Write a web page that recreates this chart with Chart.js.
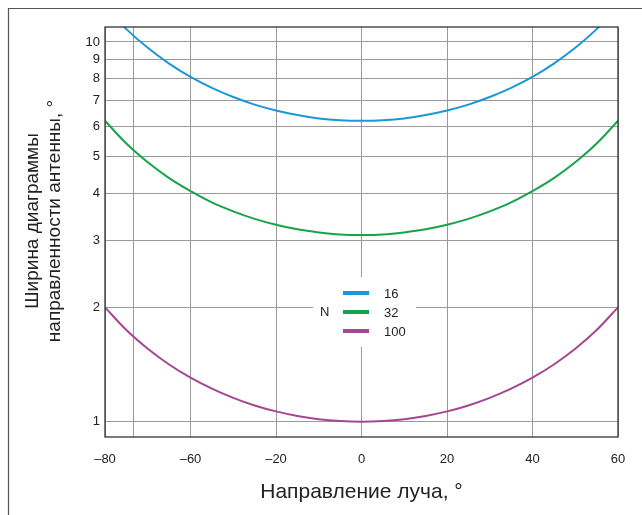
<!DOCTYPE html>
<html><head><meta charset="utf-8">
<script src="https://cdn.jsdelivr.net/npm/chart.js@4"></script>
<style>html,body{margin:0;padding:0;background:#fff}#wrap{width:642px;height:515px;position:relative}</style>
</head><body><div id="wrap"><canvas id="c" width="642" height="515"></canvas></div>
<script>
// Beam direction (degrees, plotted positions)
const angles = [-60,-55,-50,-45,-40,-35,-30,-25,-20,-15,-10,-5,0,5,10,15,20,25,30,35,40,45,50,55,60];
// Beam width for N = 16
const n16 = [12.4,10.81,9.65,8.77,8.09,7.57,7.16,6.84,6.60,6.42,6.29,6.22,6.20,6.22,6.29,6.42,6.60,6.84,7.16,7.57,8.09,8.77,9.65,10.81,12.4];
// Beam width for N = 32
const n32 = [6.20,5.40,4.82,4.38,4.05,3.78,3.58,3.42,3.30,3.21,3.15,3.11,3.10,3.11,3.15,3.21,3.30,3.42,3.58,3.78,4.05,4.38,4.82,5.40,6.20];
// Beam width for N = 100
const n100 = [2.00,1.743,1.556,1.414,1.305,1.221,1.155,1.103,1.064,1.035,1.015,1.004,1.00,1.004,1.015,1.035,1.064,1.103,1.155,1.221,1.305,1.414,1.556,1.743,2.00];
const seriesNames = ['16','32','100'];
const xTickPos = [-60,-53.4,-40,-20,0,20,40,60];
const xTickLabels = ['–80','','–60','–20','0','20','40','60'];
const yTicks = [1,2,3,4,5,6,7,8,9,10];
const yTitle = ['Ширина диаграммы','направленности антенны, °'];
const xTitle = 'Направление луча, °';

const colors = ['#1a98d5','#17a34a','#a64690'];
const FONT = '"Liberation Sans", Arial, sans-serif';
function mk(arr){return angles.map((a,i)=>({x:a,y:arr[i]}));}

const frame = {
  id:'frame',
  beforeDraw(ch){
    const c=ch.ctx; c.save();
    c.fillStyle='#fff'; c.fillRect(0,0,ch.width,ch.height);
    c.strokeStyle='#555'; c.lineWidth=1.2;
    c.beginPath(); c.moveTo(8.5,515); c.lineTo(8.5,8.5); c.lineTo(642,8.5); c.stroke();
    // y title
    c.translate(0,221); c.rotate(-Math.PI/2);
    c.font='19px '+FONT; c.fillStyle='#222'; c.textAlign='center'; c.textBaseline='alphabetic';
    c.fillText(yTitle[0],0,38);
    c.fillText(yTitle[1],0,60);
    c.restore();
  },
  afterDatasetsDraw(ch){
    const c=ch.ctx, a=ch.chartArea; c.save();
    const bx=313, by=277, bw=103, bh=70;
    c.fillStyle='#fff'; c.fillRect(bx,by,bw,bh);
    c.font='13px '+FONT;
    c.fillStyle='#222'; c.textBaseline='middle'; c.textAlign='left';
    c.fillText('N',320,312);
    const ly=[293,312,331];
    ch.data.datasets.forEach((d,i)=>{
      c.strokeStyle=d.borderColor; c.lineWidth=4;
      c.beginPath(); c.moveTo(343,ly[i]); c.lineTo(369,ly[i]); c.stroke();
      c.fillStyle='#222'; c.fillText(d.label,384,ly[i]+1);
    });
    c.strokeStyle='#333'; c.lineWidth=1.3;
    c.strokeRect(a.left,a.top,a.right-a.left,a.bottom-a.top);
    c.restore();
  }
};

new Chart(document.getElementById('c'),{
  type:'line',
  data:{datasets:[
    {label:seriesNames[0],data:mk(n16),borderColor:colors[0],borderWidth:2,pointRadius:0,tension:0.4,fill:false},
    {label:seriesNames[1],data:mk(n32),borderColor:colors[1],borderWidth:2,pointRadius:0,tension:0.4,fill:false},
    {label:seriesNames[2],data:mk(n100),borderColor:colors[2],borderWidth:2,pointRadius:0,tension:0.4,fill:false}
  ]},
  options:{
    responsive:false,animation:false,
    layout:{padding:{left:0,right:24,top:27,bottom:0}},
    plugins:{legend:{display:false},tooltip:{enabled:false}},
    scales:{
      x:{type:'linear',min:-60,max:60,
        afterBuildTicks(s){s.ticks=xTickPos.map(v=>({value:v}));},
        afterFit(s){s.height=78;},
        ticks:{autoSkip:false,maxRotation:0,padding:15,color:'#222',
          font:{family:FONT,size:13},
          callback(v,i){return xTickLabels[i];}},
        grid:{color:'#9a9a9a',lineWidth:1,drawTicks:false},
        border:{display:false},
        title:{display:true,text:xTitle,color:'#222',
          font:{family:FONT,size:21},padding:{top:0,bottom:10}}
      },
      y:{type:'logarithmic',min:0.911,max:10.95,
        afterBuildTicks(s){s.ticks=yTicks.map(v=>({value:v}));},
        afterFit(s){s.width=105;},
        ticks:{autoSkip:false,padding:5,color:'#222',
          font:{family:FONT,size:13},
          callback(v){return String(v);}},
        grid:{color:'#9a9a9a',lineWidth:1,drawTicks:false},
        border:{display:false},
        title:{display:false}
      }
    }
  },
  plugins:[frame]
});
</script></body></html>
